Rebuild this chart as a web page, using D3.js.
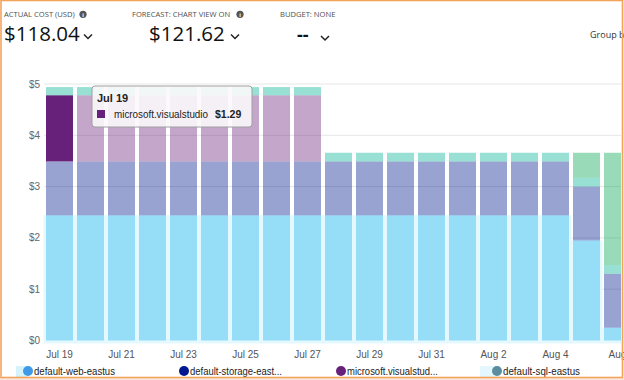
<!DOCTYPE html>
<html><head><meta charset="utf-8">
<script src="https://cdn.jsdelivr.net/npm/d3@7"></script>
<style>
html,body{margin:0;padding:0;background:#fff;}
svg{display:block;}
</style></head>
<body>
<svg id="c" width="624" height="380"></svg>
<script>
// ---- data ----
const days = ["Jul 19","Jul 20","Jul 21","Jul 22","Jul 23","Jul 24","Jul 25","Jul 26","Jul 27","Jul 28","Jul 29","Jul 30","Jul 31","Aug 1","Aug 2","Aug 3","Aug 4","Aug 5","Aug 6"];
const tickLabels = ["Jul 19","Jul 21","Jul 23","Jul 25","Jul 27","Jul 29","Jul 31","Aug 2","Aug 4","Aug"];
const yTicks = [0,1,2,3,4,5];
const seriesNames = ["default-web-eastus","default-storage-eastus","microsoft.visualstudio","default-sql-eastus","other"];
const webEastus     = [2.44,2.44,2.44,2.44,2.44,2.44,2.44,2.44,2.44,2.44,2.44,2.44,2.44,2.44,2.44,2.44,2.44,1.95,0.25];
const storageEastus = [1.05,1.05,1.05,1.05,1.05,1.05,1.05,1.05,1.05,1.05,1.05,1.05,1.05,1.05,1.05,1.05,1.05,1.05,1.05];
const visualStudio  = [1.29,1.29,1.29,1.29,1.29,1.29,1.29,1.29,1.29,0,0,0,0,0,0,0,0,0,0];
const sqlEastus     = [0.16,0.16,0.16,0.16,0.16,0.16,0.16,0.16,0.16,0.17,0.17,0.17,0.17,0.17,0.17,0.17,0.17,0.17,0.17];
const otherCost     = [0,0,0,0,0,0,0,0,0,0,0,0,0,0,0,0,0,0.49,2.19];
const barColors = ["#14b3ee","#00188f","#68217a","#00b294","#00a550"];
const legendColors = ["#3e9ae6","#00188f","#68217a","#5a8d9e"];
const legendLabels = ["default-web-eastus","default-storage-east...","microsoft.visualstud...","default-sql-eastus"];
const kpiLabels = ["ACTUAL COST (USD)","FORECAST: CHART VIEW ON","BUDGET: NONE"];
const kpiValues = ["$118.04","$121.62","--"];
const hover = {day:"Jul 19", series:2, label:"microsoft.visualstudio", value:"$1.29"};

const svg = d3.select("#c");
const font = "'Liberation Sans', Arial, sans-serif";
const uiFont = "'Open Sans', 'Noto Sans', sans-serif";

svg.append("rect").attr("x",0).attr("y",378).attr("width",624).attr("height",2).attr("fill","#fbe6df");

// ---- header KPIs ----
const kpiX = [4,132,280];
const valX = [4,149,297];
const chevX = [84,231,321];
kpiLabels.forEach((t,i)=>{
  svg.append("text").attr("x",kpiX[i]).attr("y",17).text(t)
    .attr("font-family",uiFont).attr("font-size",7.6).attr("fill","#505050");
});
[83,240].forEach(cx=>{
  svg.append("circle").attr("cx",cx).attr("cy",14.3).attr("r",3.6).attr("fill","#555");
  svg.append("text").attr("x",cx).attr("y",16.8).attr("text-anchor","middle").text("i")
    .attr("font-family",font).attr("font-size",6).attr("font-weight","bold").attr("fill","#fff");
});
kpiValues.forEach((t,i)=>{
  svg.append("text").attr("x",valX[i]).attr("y",40.5).text(t)
    .attr("font-family",uiFont).attr("font-size",i==2?18:20.5).attr("fill","#111")
    .attr("font-weight",i==2?"bold":"normal");
  const cx=chevX[i], cy=i==2?36:34.5;
  svg.append("path").attr("d",`M${cx},${cy} l4,4 l4,-4`).attr("fill","none")
    .attr("stroke","#222").attr("stroke-width",1.5);
});
svg.append("text").attr("x",590).attr("y",38).text("Group by")
  .attr("font-family",uiFont).attr("font-size",9).attr("fill","#333");

// ---- chart ----
const y = d3.scaleLinear().domain([0,5]).range([340.5,84]);
const x = d3.scaleBand().domain(days).range([44,44+31*days.length]).paddingInner(4/31).paddingOuter(2/31);

const g = svg.append("g");
svg.append("clipPath").attr("id","cl").append("rect")
  .attr("x",0).attr("y",0).attr("width",621).attr("height",380);
g.attr("clip-path","url(#cl)");

g.selectAll(".grid").data(yTicks).join("line")
  .attr("x1",44).attr("x2",624).attr("y1",d=>y(d)).attr("y2",d=>y(d))
  .attr("stroke","#e6e6e6").attr("stroke-width",1);

g.selectAll(".bg").data(days).join("rect")
  .attr("x",d=>x(d)-x.step()*x.paddingInner()/2-0.5).attr("width",x.step()+1)
  .attr("y",(d,i)=>y(webEastus[i])).attr("height",(d,i)=>y(0)+3-y(webEastus[i]))
  .attr("fill","#e5f8fd");

const table = days.map((d,i)=>({day:d, s0:webEastus[i], s1:storageEastus[i], s2:visualStudio[i], s3:sqlEastus[i], s4:otherCost[i]}));
const stack = d3.stack().keys(["s0","s1","s2","s3","s4"]);
const layers = stack(table);

layers.forEach((layer,si)=>{
  g.selectAll(".l"+si).data(layer).join("rect")
    .attr("x",d=>x(d.data.day)).attr("width",x.bandwidth())
    .attr("y",d=>y(d[1])).attr("height",d=>Math.max(0,y(d[0])-y(d[1])))
    .attr("fill",barColors[si])
    .attr("fill-opacity",d=>(si===hover.series && d.data.day===hover.day)?1:(si===0?0.38:0.4));
});

svg.selectAll(".yl").data(yTicks).join("text")
  .attr("x",40).attr("y",d=>y(d)+3.5).attr("text-anchor","end")
  .text(d=>"$"+d).attr("font-family",font).attr("font-size",10).attr("fill","#666");

const tickDays = days.filter((d,i)=>i%2===0);
svg.selectAll(".xl").data(tickDays).join("text")
  .attr("x",d=>x(d)+x.bandwidth()/2).attr("y",358).attr("text-anchor","middle")
  .text((d,i)=>tickLabels[i]).attr("font-family",font).attr("font-size",10).attr("fill","#555");

// ---- tooltip ----
const tt = svg.append("g");
tt.append("rect").attr("x",92).attr("y",86).attr("width",160).attr("height",41).attr("rx",3)
  .attr("fill","#fbf8fb").attr("fill-opacity",0.9).attr("stroke","#a0a0a0");
tt.append("text").attr("x",97).attr("y",101.5).text(hover.day)
  .attr("font-family",font).attr("font-size",11).attr("font-weight","bold").attr("fill","#222");
tt.append("rect").attr("x",97).attr("y",110).attr("width",8).attr("height",8).attr("fill",barColors[hover.series]);
tt.append("text").attr("x",114).attr("y",118).text(hover.label)
  .attr("font-family",font).attr("font-size",10.5).attr("fill","#222")
  .attr("textLength",94).attr("lengthAdjust","spacingAndGlyphs");
tt.append("text").attr("x",215).attr("y",118).text(hover.value)
  .attr("font-family",font).attr("font-size",10.5).attr("font-weight","bold").attr("fill","#222");

// ---- legend ----
const legX = [28,184,341,497];
const legW = [81,92,91,77];
svg.append("rect").attr("x",16).attr("y",366).attr("width",12).attr("height",11).attr("fill","#d6f3fc");
svg.append("rect").attr("x",480).attr("y",366).attr("width",20).attr("height",11).attr("fill","#e3f7fd");
legendLabels.forEach((t,i)=>{
  svg.append("circle").attr("cx",legX[i]).attr("cy",371).attr("r",5).attr("fill",legendColors[i]);
  svg.append("text").attr("x",legX[i]+6).attr("y",375).text(t)
    .attr("font-family",font).attr("font-size",10.5).attr("fill","#222")
    .attr("textLength",legW[i]).attr("lengthAdjust","spacingAndGlyphs");
});

svg.append("rect").attr("x",1).attr("y",0.5).attr("width",621.5).attr("height",377)
  .attr("fill","none").attr("stroke","#f4a35a").attr("stroke-width",1.6);
</script>
</body></html>
